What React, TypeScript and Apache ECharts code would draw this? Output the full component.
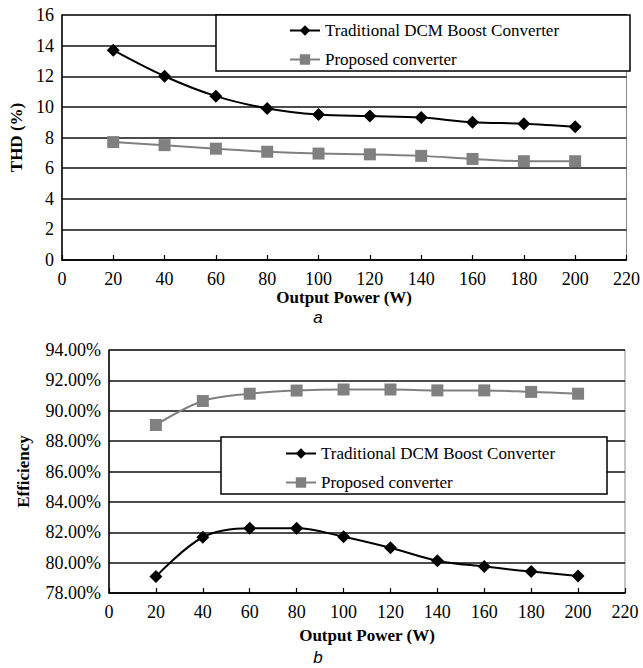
import React, { useEffect, useRef } from "react";
import * as echarts from "echarts";

const power = [20, 40, 60, 80, 100, 120, 140, 160, 180, 200];
const thdTraditional = [13.7, 12.0, 10.7, 9.9, 9.5, 9.4, 9.3, 9.0, 8.9, 8.7];
const thdProposed = [7.7, 7.5, 7.27, 7.07, 6.95, 6.9, 6.8, 6.6, 6.45, 6.45];
const effTraditional = [79.08, 81.67, 82.26, 82.26, 81.71, 80.98, 80.13, 79.74, 79.41, 79.12];
const effProposed = [89.06, 90.64, 91.12, 91.33, 91.4, 91.4, 91.34, 91.34, 91.24, 91.12];

const NAME_T = "Traditional DCM Boost Converter";
const NAME_P = "Proposed converter";
const SERIF = "'Liberation Serif', 'DejaVu Serif', serif";

const pair = (ys: number[]) => power.map((x, i) => [x, ys[i]]);

export default function App() {
  const ref = useRef<HTMLDivElement>(null);
  useEffect(() => {
    const chart = echarts.init(ref.current!, null, { renderer: "svg" });
    const axisLabel = { color: "#000", fontFamily: SERIF, fontSize: 18 };
    const nameStyle = { color: "#000", fontFamily: SERIF, fontSize: 17, fontWeight: "bold" as const };
    const xAxisBase = {
      type: "value" as const,
      min: 0,
      max: 220,
      interval: 20,
      name: "Output Power (W)",
      nameLocation: "middle" as const,
      nameTextStyle: nameStyle,
      axisLine: { show: true, lineStyle: { color: "#000", width: 1.5 } },
      axisTick: { show: true, inside: true, length: 5, lineStyle: { color: "#000", width: 1.2 } },
      axisLabel: { ...axisLabel, margin: 10 },
      splitLine: { show: false },
    };
    const splitLine = { show: true, lineStyle: { color: "#111", width: 1.6 } };
    const tradStyle = {
      type: "line" as const,
      name: NAME_T,
      smooth: 0.35,
      symbol: "diamond",
      symbolSize: 13,
      lineStyle: { color: "#000", width: 2 },
      itemStyle: { color: "#000" },
      z: 2,
    };
    const propStyle = {
      type: "line" as const,
      name: NAME_P,
      smooth: 0.35,
      symbol: "rect",
      symbolSize: 12,
      lineStyle: { color: "#808080", width: 2 },
      itemStyle: { color: "#808080" },
      z: 2,
    };
    const legendBase = {
      orient: "vertical" as const,
      itemWidth: 30,
      itemHeight: 13,
      itemGap: 12,
      textStyle: { color: "#000", fontFamily: SERIF, fontSize: 17 },
      data: [NAME_T, NAME_P],
      selectedMode: false,
      z: 10,
    };
    chart.setOption({
      animation: false,
      backgroundColor: "#fff",
      grid: [
        { left: 58, top: 15, width: 569, height: 245, show: true, borderColor: "#888", borderWidth: 1, backgroundColor: "transparent" },
        { left: 109, top: 350, width: 516, height: 243, show: true, borderColor: "#888", borderWidth: 1, backgroundColor: "transparent" },
      ],
      xAxis: [
        { ...xAxisBase, gridIndex: 0, nameGap: 29 },
        { ...xAxisBase, gridIndex: 1, nameGap: 34 },
      ],
      yAxis: [
        {
          type: "value",
          gridIndex: 0,
          min: 0,
          max: 16,
          interval: 2,
          name: "THD (%)",
          nameLocation: "middle",
          nameGap: 32,
          nameTextStyle: nameStyle,
          axisLine: { show: true, lineStyle: { color: "#000", width: 1.5 } },
          axisTick: { show: false },
          axisLabel: { ...axisLabel, margin: 8 },
          splitLine,
        },
        {
          type: "value",
          gridIndex: 1,
          min: 78,
          max: 94,
          interval: 2,
          name: "Efficiency",
          nameLocation: "middle",
          nameGap: 77,
          nameTextStyle: nameStyle,
          axisLine: { show: true, lineStyle: { color: "#000", width: 1.5 } },
          axisTick: { show: false },
          axisLabel: { ...axisLabel, margin: 8, formatter: (v: number) => v.toFixed(2) + "%" },
          splitLine,
        },
      ],
      legend: [
        { ...legendBase, left: 284, top: 17 },
        { ...legendBase, left: 280, top: 440 },
      ],
      graphic: [
        { type: "rect", z: 5, shape: { x: 216, y: 15, width: 414, height: 56 }, style: { fill: "#fff", stroke: "#000", lineWidth: 1.5 } },
        { type: "rect", z: 5, shape: { x: 221, y: 437, width: 386, height: 57 }, style: { fill: "#fff", stroke: "#000", lineWidth: 1.5 } },
        { type: "text", z: 5, x: 318, y: 317, style: { text: "a", fill: "#000", font: "italic 17px 'Liberation Sans'", align: "center", verticalAlign: "middle" } },
        { type: "text", z: 5, x: 318, y: 657, style: { text: "b", fill: "#000", font: "italic 17px 'Liberation Sans'", align: "center", verticalAlign: "middle" } },
      ],
      series: [
        { ...tradStyle, xAxisIndex: 0, yAxisIndex: 0, data: pair(thdTraditional) },
        { ...propStyle, xAxisIndex: 0, yAxisIndex: 0, data: pair(thdProposed) },
        { ...tradStyle, xAxisIndex: 1, yAxisIndex: 1, data: pair(effTraditional) },
        { ...propStyle, xAxisIndex: 1, yAxisIndex: 1, data: pair(effProposed) },
      ],
    });
    return () => chart.dispose();
  }, []);
  return <div ref={ref} style={{ position: "fixed", left: 0, top: 0, width: 643, height: 668 }} />;
}
